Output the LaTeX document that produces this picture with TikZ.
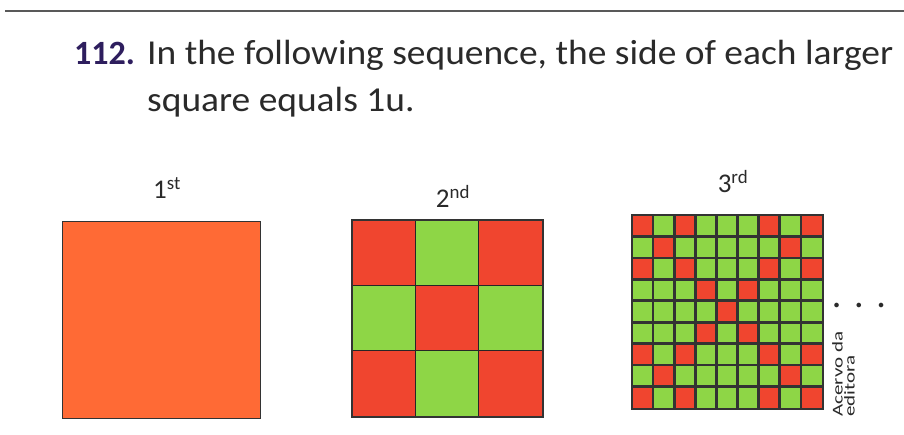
\documentclass[tikz,border=0pt]{standalone}
\usepackage{fontspec}
\setmainfont{Carlito}
\definecolor{orng}{HTML}{FF6A35}
\definecolor{rd}{HTML}{F0452F}
\definecolor{gr}{HTML}{8ED646}
\definecolor{pur}{HTML}{2E1E5E}
\definecolor{txt}{HTML}{2A2A2A}
\begin{document}
\begin{tikzpicture}[x=1pt,y=-1pt,
  body/.style={anchor=base west, inner sep=0pt, text=txt, font=\fontsize{35}{40}\selectfont},
  lab/.style={anchor=base, inner sep=0pt, text=txt, font=\fontsize{27}{30}\selectfont},
  gline/.style={draw=black!85, line width=1.6pt},
  sqbox/.style={draw=black!80, line width=1.4pt, inner sep=0pt, anchor=north west}]
\useasboundingbox (0,0) rectangle (904,435);
\fill[white] (0,0) rectangle (904,435);
\coordinate (r0) at (5,11);
\coordinate (r1) at (904,11);
\draw[black!65, line width=2pt] (r0) -- (r1);
% heading
\node[body, text=pur, font=\fontsize{34}{40}\selectfont\bfseries] (num) at (74,65) {112.};
\node[body] (line1) at (147,65) {\scalebox{1.07}[1]{In the following sequence, the side of each larger}};
\node[body] (line2) at (147,112) {\scalebox{1.07}[1]{square equals 1u.}};
% 1st
\node[sqbox, fill=orng, minimum width=198pt, minimum height=197pt] (s1) at (62,221) {};
\node[lab] (l1) at (167,199) {1\textsuperscript{st}};
% 2nd
\node[sqbox, minimum width=190pt, minimum height=196pt] (s2) at (352,220) {};
\foreach \r in {0,1,2}{\foreach \c in {0,1,2}{
  \pgfmathtruncatemacro\a{mod(\r+\c,2)}
  \ifnum\a=0 \def\col{rd}\else\def\col{gr}\fi
  \fill[\col] ({352+\c*63.333},{220+\r*65.333}) rectangle ++(63.333,65.333);
}}
\foreach \k in {1,2}{
  \draw[gline] ({352+\k*63.333},220) -- ({352+\k*63.333},416);
  \draw[gline] (352,{220+\k*65.333}) -- (542,{220+\k*65.333});
}
\draw[draw=black!80, line width=1.4pt] (s2.north west) rectangle (s2.south east);
\node[lab] (l2) at (453,208) {2\textsuperscript{nd}};
% 3rd
\node[sqbox, minimum width=190pt, minimum height=193pt] (s3) at (632,215) {};
\foreach \r in {0,...,8}{\foreach \c in {0,...,8}{
  \pgfmathtruncatemacro\a{mod(floor(\r/3)+floor(\c/3),2)+mod(mod(\r,3)+mod(\c,3),2)}
  \ifnum\a=0 \def\col{rd}\else\def\col{gr}\fi
  \fill[\col] ({632+\c*21.111},{215+\r*21.444}) rectangle ++(21.111,21.444);
}}
\foreach \k in {1,...,8}{
  \draw[gline, draw=black!80, line width=2.6pt] ({632+\k*21.111},215) -- ({632+\k*21.111},408);
  \draw[gline, draw=black!80, line width=2.6pt] (632,{215+\k*21.444}) -- (822,{215+\k*21.444});
}
\draw[draw=black!80, line width=2pt] (s3.north west) rectangle (s3.south east);
\node[lab] (l3) at (733,193) {3\textsuperscript{rd}};
% dots and credit
\node[anchor=base, inner sep=0pt, text=txt, font=\fontsize{38}{40}\selectfont] (dots) at (859,308) {.\,\,.\,\,.};
\node[anchor=south west, rotate=90, inner sep=0pt, align=left, text=txt, font=\fontsize{15}{12}\selectfont] (credit) at (855,417) {\scalebox{1.4}[1]{Acervo da}\\\scalebox{1.4}[1]{editora}};
\end{tikzpicture}
\end{document}
